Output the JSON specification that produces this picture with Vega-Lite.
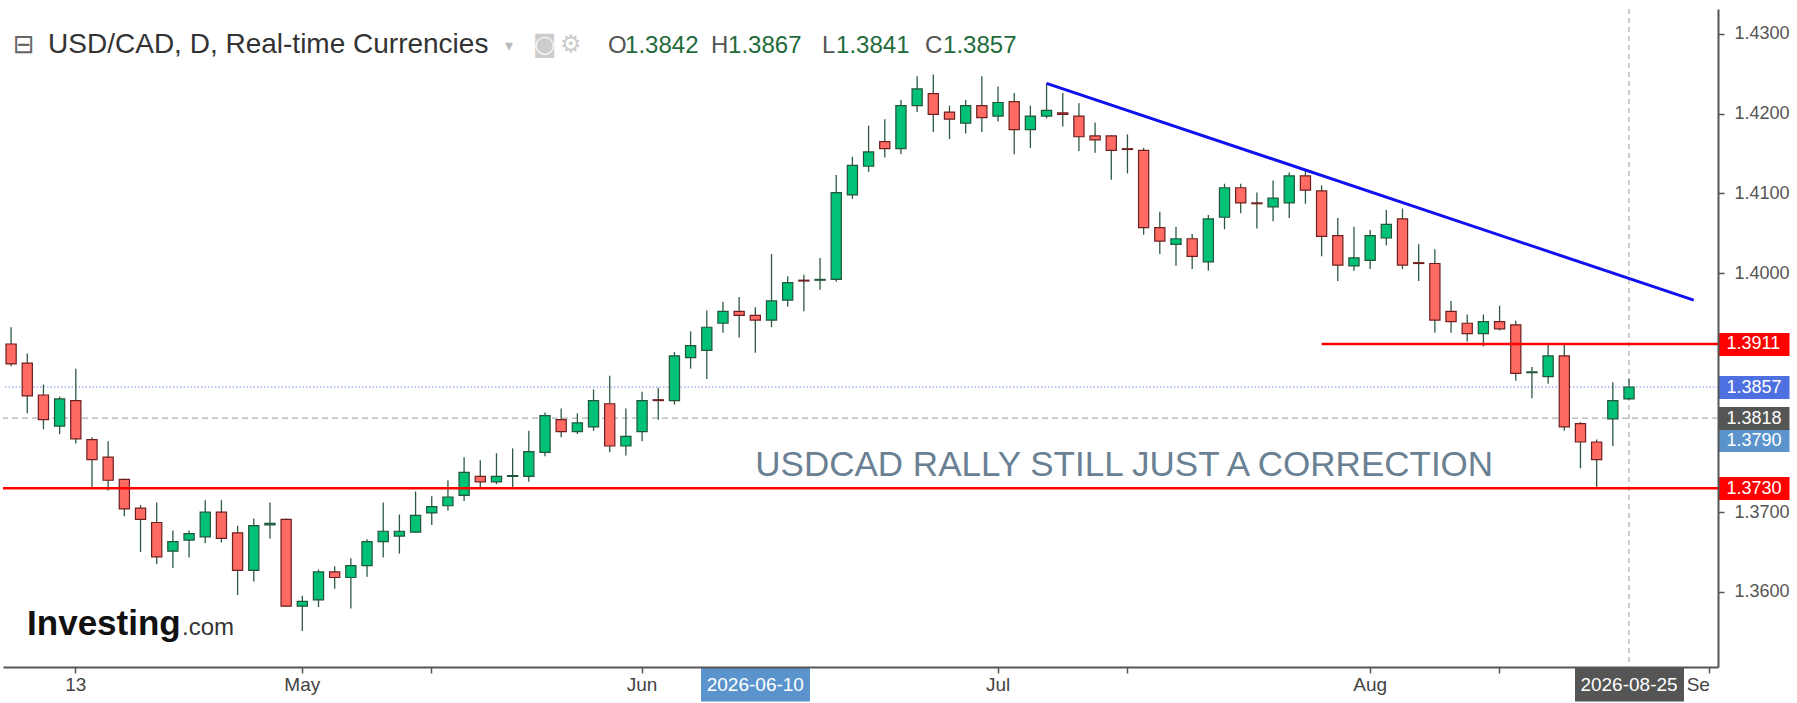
{
  "$schema": "https://vega.github.io/schema/vega-lite/v6.json",
  "width": 1715,
  "height": 658,
  "autosize": {"type": "none"},
  "padding": {"left": 3, "top": 9, "right": 79, "bottom": 36},
  "background": "#ffffff",
  "config": {
    "view": {"stroke": null},
    "font": "Liberation Sans"
  },
  "resolve": {"axis": {"x": "independent", "y": "independent"}},
  "datasets": {
    "candles": [
      {"date": "2026-04-07", "open": 1.3911, "high": 1.3932, "low": 1.3883, "close": 1.3886},
      {"date": "2026-04-08", "open": 1.3887, "high": 1.3899, "low": 1.3824, "close": 1.3846},
      {"date": "2026-04-09", "open": 1.3847, "high": 1.3860, "low": 1.3804, "close": 1.3816},
      {"date": "2026-04-10", "open": 1.3808, "high": 1.3845, "low": 1.3798, "close": 1.3842},
      {"date": "2026-04-13", "open": 1.3840, "high": 1.3880, "low": 1.3786, "close": 1.3792},
      {"date": "2026-04-14", "open": 1.3791, "high": 1.3794, "low": 1.3731, "close": 1.3766},
      {"date": "2026-04-15", "open": 1.3769, "high": 1.3789, "low": 1.3727, "close": 1.3740},
      {"date": "2026-04-16", "open": 1.3741, "high": 1.3742, "low": 1.3695, "close": 1.3704},
      {"date": "2026-04-17", "open": 1.3705, "high": 1.3709, "low": 1.3650, "close": 1.3691},
      {"date": "2026-04-20", "open": 1.3687, "high": 1.3712, "low": 1.3635, "close": 1.3644},
      {"date": "2026-04-21", "open": 1.3651, "high": 1.3677, "low": 1.3630, "close": 1.3663},
      {"date": "2026-04-22", "open": 1.3665, "high": 1.3677, "low": 1.3643, "close": 1.3673},
      {"date": "2026-04-23", "open": 1.3669, "high": 1.3715, "low": 1.3661, "close": 1.3700},
      {"date": "2026-04-24", "open": 1.3700, "high": 1.3715, "low": 1.3662, "close": 1.3667},
      {"date": "2026-04-27", "open": 1.3674, "high": 1.3683, "low": 1.3596, "close": 1.3627},
      {"date": "2026-04-28", "open": 1.3627, "high": 1.3692, "low": 1.3613, "close": 1.3683},
      {"date": "2026-04-29", "open": 1.3684, "high": 1.3712, "low": 1.3667, "close": 1.3686},
      {"date": "2026-04-30", "open": 1.3691, "high": 1.3692, "low": 1.3581, "close": 1.3582},
      {"date": "2026-05-01", "open": 1.3582, "high": 1.3595, "low": 1.3551, "close": 1.3588},
      {"date": "2026-05-04", "open": 1.3590, "high": 1.3628, "low": 1.3581, "close": 1.3625},
      {"date": "2026-05-05", "open": 1.3625, "high": 1.3632, "low": 1.3604, "close": 1.3618},
      {"date": "2026-05-06", "open": 1.3618, "high": 1.3642, "low": 1.3579, "close": 1.3633},
      {"date": "2026-05-07", "open": 1.3633, "high": 1.3666, "low": 1.3619, "close": 1.3663},
      {"date": "2026-05-08", "open": 1.3663, "high": 1.3712, "low": 1.3643, "close": 1.3676},
      {"date": "2026-05-11", "open": 1.3670, "high": 1.3697, "low": 1.3648, "close": 1.3676},
      {"date": "2026-05-12", "open": 1.3675, "high": 1.3726, "low": 1.3674, "close": 1.3696},
      {"date": "2026-05-13", "open": 1.3699, "high": 1.3720, "low": 1.3684, "close": 1.3707},
      {"date": "2026-05-14", "open": 1.3708, "high": 1.3740, "low": 1.3702, "close": 1.3719},
      {"date": "2026-05-15", "open": 1.3721, "high": 1.3769, "low": 1.3714, "close": 1.3750},
      {"date": "2026-05-18", "open": 1.3745, "high": 1.3765, "low": 1.3731, "close": 1.3738},
      {"date": "2026-05-19", "open": 1.3738, "high": 1.3774, "low": 1.3735, "close": 1.3745},
      {"date": "2026-05-20", "open": 1.3745, "high": 1.3780, "low": 1.3731, "close": 1.3746},
      {"date": "2026-05-21", "open": 1.3745, "high": 1.3802, "low": 1.3738, "close": 1.3776},
      {"date": "2026-05-22", "open": 1.3775, "high": 1.3825, "low": 1.3770, "close": 1.3821},
      {"date": "2026-05-25", "open": 1.3816, "high": 1.3830, "low": 1.3794, "close": 1.3801},
      {"date": "2026-05-26", "open": 1.3801, "high": 1.3824, "low": 1.3798, "close": 1.3812},
      {"date": "2026-05-27", "open": 1.3807, "high": 1.3854, "low": 1.3802, "close": 1.3840},
      {"date": "2026-05-28", "open": 1.3836, "high": 1.3871, "low": 1.3775, "close": 1.3783},
      {"date": "2026-05-29", "open": 1.3783, "high": 1.3830, "low": 1.3771, "close": 1.3795},
      {"date": "2026-06-01", "open": 1.3801, "high": 1.3851, "low": 1.3789, "close": 1.3840},
      {"date": "2026-06-02", "open": 1.3841, "high": 1.3856, "low": 1.3816, "close": 1.3840},
      {"date": "2026-06-03", "open": 1.3840, "high": 1.3901, "low": 1.3835, "close": 1.3896},
      {"date": "2026-06-04", "open": 1.3894, "high": 1.3927, "low": 1.3880, "close": 1.3909},
      {"date": "2026-06-05", "open": 1.3903, "high": 1.3953, "low": 1.3867, "close": 1.3932},
      {"date": "2026-06-08", "open": 1.3937, "high": 1.3964, "low": 1.3925, "close": 1.3952},
      {"date": "2026-06-09", "open": 1.3952, "high": 1.3970, "low": 1.3919, "close": 1.3947},
      {"date": "2026-06-10", "open": 1.3947, "high": 1.3957, "low": 1.3900, "close": 1.3941},
      {"date": "2026-06-11", "open": 1.3941, "high": 1.4024, "low": 1.3932, "close": 1.3965},
      {"date": "2026-06-12", "open": 1.3966, "high": 1.3996, "low": 1.3958, "close": 1.3988},
      {"date": "2026-06-15", "open": 1.3991, "high": 1.3998, "low": 1.3952, "close": 1.3990},
      {"date": "2026-06-16", "open": 1.3991, "high": 1.4019, "low": 1.3979, "close": 1.3992},
      {"date": "2026-06-17", "open": 1.3992, "high": 1.4123, "low": 1.3989, "close": 1.4101},
      {"date": "2026-06-18", "open": 1.4098, "high": 1.4146, "low": 1.4093, "close": 1.4135},
      {"date": "2026-06-19", "open": 1.4134, "high": 1.4185, "low": 1.4127, "close": 1.4152},
      {"date": "2026-06-22", "open": 1.4165, "high": 1.4193, "low": 1.4145, "close": 1.4156},
      {"date": "2026-06-23", "open": 1.4156, "high": 1.4217, "low": 1.4149, "close": 1.4210},
      {"date": "2026-06-24", "open": 1.4210, "high": 1.4247, "low": 1.4202, "close": 1.4231},
      {"date": "2026-06-25", "open": 1.4225, "high": 1.4249, "low": 1.4177, "close": 1.4199},
      {"date": "2026-06-26", "open": 1.4202, "high": 1.4210, "low": 1.4168, "close": 1.4193},
      {"date": "2026-06-29", "open": 1.4188, "high": 1.4217, "low": 1.4175, "close": 1.4210},
      {"date": "2026-06-30", "open": 1.4210, "high": 1.4247, "low": 1.4177, "close": 1.4195},
      {"date": "2026-07-01", "open": 1.4197, "high": 1.4234, "low": 1.4190, "close": 1.4214},
      {"date": "2026-07-02", "open": 1.4215, "high": 1.4226, "low": 1.4149, "close": 1.4180},
      {"date": "2026-07-03", "open": 1.4180, "high": 1.4210, "low": 1.4157, "close": 1.4197},
      {"date": "2026-07-06", "open": 1.4197, "high": 1.4238, "low": 1.4194, "close": 1.4204},
      {"date": "2026-07-07", "open": 1.4201, "high": 1.4226, "low": 1.4184, "close": 1.4199},
      {"date": "2026-07-08", "open": 1.4197, "high": 1.4213, "low": 1.4153, "close": 1.4171},
      {"date": "2026-07-09", "open": 1.4172, "high": 1.4189, "low": 1.4151, "close": 1.4167},
      {"date": "2026-07-10", "open": 1.4172, "high": 1.4173, "low": 1.4117, "close": 1.4154},
      {"date": "2026-07-13", "open": 1.4156, "high": 1.4174, "low": 1.4125, "close": 1.4155},
      {"date": "2026-07-14", "open": 1.4154, "high": 1.4157, "low": 1.4048, "close": 1.4057},
      {"date": "2026-07-15", "open": 1.4057, "high": 1.4077, "low": 1.4024, "close": 1.4040},
      {"date": "2026-07-16", "open": 1.4036, "high": 1.4058, "low": 1.4009, "close": 1.4043},
      {"date": "2026-07-17", "open": 1.4043, "high": 1.4049, "low": 1.4005, "close": 1.4021},
      {"date": "2026-07-20", "open": 1.4014, "high": 1.4073, "low": 1.4003, "close": 1.4068},
      {"date": "2026-07-21", "open": 1.4070, "high": 1.4112, "low": 1.4055, "close": 1.4107},
      {"date": "2026-07-22", "open": 1.4107, "high": 1.4112, "low": 1.4075, "close": 1.4088},
      {"date": "2026-07-23", "open": 1.4088, "high": 1.4101, "low": 1.4056, "close": 1.4087},
      {"date": "2026-07-24", "open": 1.4083, "high": 1.4116, "low": 1.4065, "close": 1.4094},
      {"date": "2026-07-27", "open": 1.4088, "high": 1.4126, "low": 1.4069, "close": 1.4122},
      {"date": "2026-07-28", "open": 1.4122, "high": 1.4129, "low": 1.4087, "close": 1.4104},
      {"date": "2026-07-29", "open": 1.4103, "high": 1.4110, "low": 1.4021, "close": 1.4046},
      {"date": "2026-07-30", "open": 1.4047, "high": 1.4069, "low": 1.3990, "close": 1.4010},
      {"date": "2026-07-31", "open": 1.4009, "high": 1.4058, "low": 1.4003, "close": 1.4019},
      {"date": "2026-08-03", "open": 1.4016, "high": 1.4054, "low": 1.4005, "close": 1.4047},
      {"date": "2026-08-04", "open": 1.4044, "high": 1.4079, "low": 1.4035, "close": 1.4061},
      {"date": "2026-08-05", "open": 1.4068, "high": 1.4081, "low": 1.4005, "close": 1.4010},
      {"date": "2026-08-06", "open": 1.4013, "high": 1.4036, "low": 1.3990, "close": 1.4012},
      {"date": "2026-08-07", "open": 1.4012, "high": 1.4030, "low": 1.3925, "close": 1.3941},
      {"date": "2026-08-10", "open": 1.3952, "high": 1.3965, "low": 1.3925, "close": 1.3939},
      {"date": "2026-08-11", "open": 1.3937, "high": 1.3948, "low": 1.3914, "close": 1.3924},
      {"date": "2026-08-12", "open": 1.3924, "high": 1.3948, "low": 1.3908, "close": 1.3939},
      {"date": "2026-08-13", "open": 1.3939, "high": 1.3959, "low": 1.3928, "close": 1.3930},
      {"date": "2026-08-14", "open": 1.3935, "high": 1.3940, "low": 1.3865, "close": 1.3874},
      {"date": "2026-08-17", "open": 1.3875, "high": 1.3882, "low": 1.3843, "close": 1.3876},
      {"date": "2026-08-18", "open": 1.3870, "high": 1.3912, "low": 1.3861, "close": 1.3896},
      {"date": "2026-08-19", "open": 1.3896, "high": 1.3910, "low": 1.3802, "close": 1.3807},
      {"date": "2026-08-20", "open": 1.3811, "high": 1.3813, "low": 1.3755, "close": 1.3788},
      {"date": "2026-08-21", "open": 1.3788, "high": 1.3791, "low": 1.3731, "close": 1.3766},
      {"date": "2026-08-24", "open": 1.3817, "high": 1.3863, "low": 1.3783, "close": 1.3840},
      {"date": "2026-08-25", "open": 1.3842, "high": 1.3867, "low": 1.3841, "close": 1.3857}
    ],
    "trend": [
      {"date": "2026-07-06", "price": 1.4238},
      {"date": "2026-08-31", "price": 1.3966}
    ]
  },
  "layer": [
    {
      "data": {"values": [{"price": 1.3857}]},
      "mark": {"type": "rule", "color": "#7391e6", "strokeWidth": 1.2, "strokeDash": [1.5, 2]},
      "encoding": {"y": {"field": "price", "type": "quantitative", "axis": null}}
    },
    {
      "data": {"values": [{"price": 1.3818}]},
      "mark": {"type": "rule", "color": "#b0b0b0", "strokeWidth": 1.2, "strokeDash": [6, 4]},
      "encoding": {"y": {"field": "price", "type": "quantitative", "axis": null}}
    },
    {
      "data": {"values": [{"date": "2026-08-25"}]},
      "mark": {"type": "rule", "color": "#9a9a9a", "strokeWidth": 1, "strokeDash": [5, 4]},
      "encoding": {"x": {"field": "date", "type": "ordinal", "bandPosition": 0.5, "axis": null}}
    },
    {
      "data": {"name": "candles"},
      "mark": {"type": "rule", "color": "#2d5a40", "strokeWidth": 1.3},
      "encoding": {
        "x": {
          "field": "date",
          "type": "ordinal",
          "bandPosition": 0.5,
          "title": null,
          "scale": {
            "paddingInner": 0,
            "paddingOuter": 0,
            "domain": [
              "2026-04-07","2026-04-08","2026-04-09","2026-04-10","2026-04-13","2026-04-14","2026-04-15","2026-04-16","2026-04-17",
              "2026-04-20","2026-04-21","2026-04-22","2026-04-23","2026-04-24","2026-04-27","2026-04-28","2026-04-29","2026-04-30",
              "2026-05-01","2026-05-04","2026-05-05","2026-05-06","2026-05-07","2026-05-08","2026-05-11","2026-05-12","2026-05-13",
              "2026-05-14","2026-05-15","2026-05-18","2026-05-19","2026-05-20","2026-05-21","2026-05-22","2026-05-25","2026-05-26",
              "2026-05-27","2026-05-28","2026-05-29","2026-06-01","2026-06-02","2026-06-03","2026-06-04","2026-06-05","2026-06-08",
              "2026-06-09","2026-06-10","2026-06-11","2026-06-12","2026-06-15","2026-06-16","2026-06-17","2026-06-18","2026-06-19",
              "2026-06-22","2026-06-23","2026-06-24","2026-06-25","2026-06-26","2026-06-29","2026-06-30","2026-07-01","2026-07-02",
              "2026-07-03","2026-07-06","2026-07-07","2026-07-08","2026-07-09","2026-07-10","2026-07-13","2026-07-14","2026-07-15",
              "2026-07-16","2026-07-17","2026-07-20","2026-07-21","2026-07-22","2026-07-23","2026-07-24","2026-07-27","2026-07-28",
              "2026-07-29","2026-07-30","2026-07-31","2026-08-03","2026-08-04","2026-08-05","2026-08-06","2026-08-07","2026-08-10",
              "2026-08-11","2026-08-12","2026-08-13","2026-08-14","2026-08-17","2026-08-18","2026-08-19","2026-08-20","2026-08-21",
              "2026-08-24","2026-08-25","2026-08-26","2026-08-27","2026-08-28","2026-08-31","2026-09-01"
            ]
          },
          "axis": {
            "orient": "bottom",
            "values": ["2026-04-13","2026-05-01","2026-05-13","2026-06-01","2026-06-10","2026-07-01","2026-07-13","2026-08-03","2026-08-13","2026-08-25","2026-09-01"],
            "labelExpr": "datum.value == '2026-04-13' ? '13' : datum.value == '2026-05-01' ? 'May' : datum.value == '2026-06-01' ? 'Jun' : datum.value == '2026-07-01' ? 'Jul' : datum.value == '2026-08-03' ? 'Aug' : datum.value == '2026-09-01' ? 'Se' : (datum.value == '2026-06-10' || datum.value == '2026-08-25') ? datum.value : ''",
            "labelAngle": 0,
            "labelOverlap": false,
            "labelFont": "Liberation Sans",
            "labelFontSize": 19,
            "labelBaseline": "top",
            "labelAlign": {"condition": {"test": "datum.value == '2026-09-01'", "value": "right"}, "value": "center"},
            "labelColor": {"condition": {"test": "datum.value == '2026-06-10' || datum.value == '2026-08-25'", "value": "#ffffff"}, "value": "#444444"},
            "labelPadding": {"condition": {"test": "datum.value == '2026-06-10' || datum.value == '2026-08-25'", "value": -26}, "value": 2},
            "tickSize": {"condition": {"test": "datum.value == '2026-06-10' || datum.value == '2026-08-25'", "value": 34}, "value": 6},
            "tickWidth": {"condition": {"test": "datum.value == '2026-06-10' || datum.value == '2026-08-25'", "value": 109}, "value": 1.5},
            "tickColor": {"condition": {"test": "datum.value == '2026-06-10'", "value": "#5b94cc"}, "value": "#555555"},
            "domainColor": "#555555",
            "domainWidth": 2,
            "grid": false
          }
        },
        "y": {
          "field": "low",
          "type": "quantitative",
          "title": null,
          "scale": {"domain": [1.35057, 1.43313], "nice": false, "zero": false},
          "axis": {
            "orient": "right",
            "values": [1.36, 1.37, 1.4, 1.41, 1.42, 1.43, 1.3911, 1.3857, 1.3818, 1.379, 1.373],
            "format": ".4f",
            "labelOverlap": false,
            "labelFont": "Liberation Sans",
            "labelFontSize": 18,
            "labelColor": {"condition": {"test": "indexof([1.3911, 1.3857, 1.3818, 1.379, 1.373], datum.value) >= 0", "value": "#ffffff"}, "value": "#555555"},
            "labelPadding": {"condition": {"test": "indexof([1.3911, 1.3857, 1.3818, 1.379, 1.373], datum.value) >= 0", "value": -63}, "value": 10},
            "tickSize": {"condition": {"test": "indexof([1.3911, 1.3857, 1.3818, 1.379, 1.373], datum.value) >= 0", "value": 71}, "value": 6},
            "tickWidth": {"condition": {"test": "indexof([1.3911, 1.3857, 1.3818, 1.379, 1.373], datum.value) >= 0", "value": 23}, "value": 1.5},
            "tickColor": {"expr": "datum.value == 1.3911 || datum.value == 1.373 ? '#ff0000' : datum.value == 1.3857 ? '#4f70e0' : datum.value == 1.379 ? '#5b94cc' : '#555555'"},
            "domainColor": "#555555",
            "domainWidth": 2,
            "grid": false
          }
        },
        "y2": {"field": "high"}
      }
    },
    {
      "data": {"name": "candles"},
      "mark": {"type": "bar", "width": {"band": 0.63}, "strokeWidth": 1.2},
      "encoding": {
        "x": {"field": "date", "type": "ordinal", "axis": null},
        "y": {"field": "open", "type": "quantitative", "axis": null},
        "y2": {"field": "close"},
        "fill": {"condition": {"test": "datum.close >= datum.open", "value": "#00c176"}, "value": "#ff6b63"},
        "stroke": {"condition": {"test": "datum.close >= datum.open", "value": "#22553a"}, "value": "#6e1f1f"}
      }
    },
    {
      "data": {"values": [{"price": 1.373}]},
      "mark": {"type": "rule", "color": "#ff0000", "strokeWidth": 2.6},
      "encoding": {"y": {"field": "price", "type": "quantitative", "axis": null}}
    },
    {
      "data": {"values": [{"price": 1.3911}]},
      "mark": {"type": "rule", "color": "#ff0000", "strokeWidth": 2.6},
      "encoding": {
        "x": {"datum": "2026-07-29", "type": "ordinal", "axis": null},
        "x2": {"datum": "2026-09-01", "bandPosition": 1},
        "y": {"field": "price", "type": "quantitative", "axis": null}
      }
    },
    {
      "data": {"name": "trend"},
      "mark": {"type": "line", "color": "#1010f0", "strokeWidth": 3},
      "encoding": {
        "x": {"field": "date", "type": "ordinal", "bandPosition": 0.5, "axis": null},
        "y": {"field": "price", "type": "quantitative", "axis": null}
      }
    },
    {
      "data": {"values": [{"label": "USDCAD RALLY STILL JUST A CORRECTION"}]},
      "mark": {"type": "text", "align": "left", "baseline": "alphabetic", "font": "Liberation Sans", "fontSize": 35, "color": "#6a8093"},
      "encoding": {
        "x": {"datum": "2026-06-10", "type": "ordinal", "axis": null},
        "y": {"datum": 1.3745, "type": "quantitative", "axis": null},
        "text": {"field": "label"}
      }
    },
    {
      "data": {"values": [{"label": "Investing"}]},
      "mark": {"type": "text", "align": "left", "baseline": "alphabetic", "dx": 16, "font": "Liberation Sans", "fontSize": 35, "fontWeight": "bold", "color": "#111111"},
      "encoding": {
        "x": {"datum": "2026-04-07", "type": "ordinal", "axis": null},
        "y": {"datum": 1.3546, "type": "quantitative", "axis": null},
        "text": {"field": "label"}
      }
    },
    {
      "data": {"values": [{"label": ".com"}]},
      "mark": {"type": "text", "align": "left", "baseline": "alphabetic", "dx": 171, "font": "Liberation Sans", "fontSize": 24, "color": "#333333"},
      "encoding": {
        "x": {"datum": "2026-04-07", "type": "ordinal", "axis": null},
        "y": {"datum": 1.3546, "type": "quantitative", "axis": null},
        "text": {"field": "label"}
      }
    },
    {
      "data": {"values": [{"label": "⊟"}]},
      "mark": {"type": "text", "align": "left", "baseline": "alphabetic", "dx": 2, "font": "DejaVu Sans", "fontSize": 26, "color": "#666666"},
      "encoding": {
        "x": {"datum": "2026-04-07", "type": "ordinal", "axis": null},
        "y": {"datum": 1.4276, "type": "quantitative", "axis": null},
        "text": {"field": "label"}
      }
    },
    {
      "data": {"values": [{"label": "USD/CAD, D, Real-time Currencies"}]},
      "mark": {"type": "text", "align": "left", "baseline": "alphabetic", "dx": 37, "font": "Liberation Sans", "fontSize": 28, "color": "#333333"},
      "encoding": {
        "x": {"datum": "2026-04-07", "type": "ordinal", "axis": null},
        "y": {"datum": 1.4276, "type": "quantitative", "axis": null},
        "text": {"field": "label"}
      }
    },
    {
      "data": {"values": [{"label": "▾"}]},
      "mark": {"type": "text", "align": "left", "baseline": "alphabetic", "dx": 494, "font": "DejaVu Sans", "fontSize": 16, "color": "#bbbbbb"},
      "encoding": {
        "x": {"datum": "2026-04-07", "type": "ordinal", "axis": null},
        "y": {"datum": 1.4279, "type": "quantitative", "axis": null},
        "text": {"field": "label"}
      }
    },
    {
      "data": {"values": [{"label": "◙"}]},
      "mark": {"type": "text", "align": "left", "baseline": "alphabetic", "dx": 522, "font": "DejaVu Sans", "fontSize": 24, "color": "#cccccc"},
      "encoding": {
        "x": {"datum": "2026-04-07", "type": "ordinal", "axis": null},
        "y": {"datum": 1.4277, "type": "quantitative", "axis": null},
        "text": {"field": "label"}
      }
    },
    {
      "data": {"values": [{"label": "⚙"}]},
      "mark": {"type": "text", "align": "left", "baseline": "alphabetic", "dx": 549, "font": "DejaVu Sans", "fontSize": 24, "color": "#cccccc"},
      "encoding": {
        "x": {"datum": "2026-04-07", "type": "ordinal", "axis": null},
        "y": {"datum": 1.4277, "type": "quantitative", "axis": null},
        "text": {"field": "label"}
      }
    },
    {
      "data": {"values": [{"label": "O"}]},
      "mark": {"type": "text", "align": "left", "baseline": "alphabetic", "dx": 597, "font": "Liberation Sans", "fontSize": 24, "color": "#555555"},
      "encoding": {"x": {"datum": "2026-04-07", "type": "ordinal", "axis": null}, "y": {"datum": 1.4276, "type": "quantitative", "axis": null}, "text": {"field": "label"}}
    },
    {
      "data": {"values": [{"label": "1.3842"}]},
      "mark": {"type": "text", "align": "left", "baseline": "alphabetic", "dx": 614, "font": "Liberation Sans", "fontSize": 24, "color": "#1f6b3b"},
      "encoding": {"x": {"datum": "2026-04-07", "type": "ordinal", "axis": null}, "y": {"datum": 1.4276, "type": "quantitative", "axis": null}, "text": {"field": "label"}}
    },
    {
      "data": {"values": [{"label": "H"}]},
      "mark": {"type": "text", "align": "left", "baseline": "alphabetic", "dx": 700, "font": "Liberation Sans", "fontSize": 24, "color": "#555555"},
      "encoding": {"x": {"datum": "2026-04-07", "type": "ordinal", "axis": null}, "y": {"datum": 1.4276, "type": "quantitative", "axis": null}, "text": {"field": "label"}}
    },
    {
      "data": {"values": [{"label": "1.3867"}]},
      "mark": {"type": "text", "align": "left", "baseline": "alphabetic", "dx": 717, "font": "Liberation Sans", "fontSize": 24, "color": "#1f6b3b"},
      "encoding": {"x": {"datum": "2026-04-07", "type": "ordinal", "axis": null}, "y": {"datum": 1.4276, "type": "quantitative", "axis": null}, "text": {"field": "label"}}
    },
    {
      "data": {"values": [{"label": "L"}]},
      "mark": {"type": "text", "align": "left", "baseline": "alphabetic", "dx": 811, "font": "Liberation Sans", "fontSize": 24, "color": "#555555"},
      "encoding": {"x": {"datum": "2026-04-07", "type": "ordinal", "axis": null}, "y": {"datum": 1.4276, "type": "quantitative", "axis": null}, "text": {"field": "label"}}
    },
    {
      "data": {"values": [{"label": "1.3841"}]},
      "mark": {"type": "text", "align": "left", "baseline": "alphabetic", "dx": 825, "font": "Liberation Sans", "fontSize": 24, "color": "#1f6b3b"},
      "encoding": {"x": {"datum": "2026-04-07", "type": "ordinal", "axis": null}, "y": {"datum": 1.4276, "type": "quantitative", "axis": null}, "text": {"field": "label"}}
    },
    {
      "data": {"values": [{"label": "C"}]},
      "mark": {"type": "text", "align": "left", "baseline": "alphabetic", "dx": 914, "font": "Liberation Sans", "fontSize": 24, "color": "#555555"},
      "encoding": {"x": {"datum": "2026-04-07", "type": "ordinal", "axis": null}, "y": {"datum": 1.4276, "type": "quantitative", "axis": null}, "text": {"field": "label"}}
    },
    {
      "data": {"values": [{"label": "1.3857"}]},
      "mark": {"type": "text", "align": "left", "baseline": "alphabetic", "dx": 932, "font": "Liberation Sans", "fontSize": 24, "color": "#1f6b3b"},
      "encoding": {"x": {"datum": "2026-04-07", "type": "ordinal", "axis": null}, "y": {"datum": 1.4276, "type": "quantitative", "axis": null}, "text": {"field": "label"}}
    }
  ]
}
